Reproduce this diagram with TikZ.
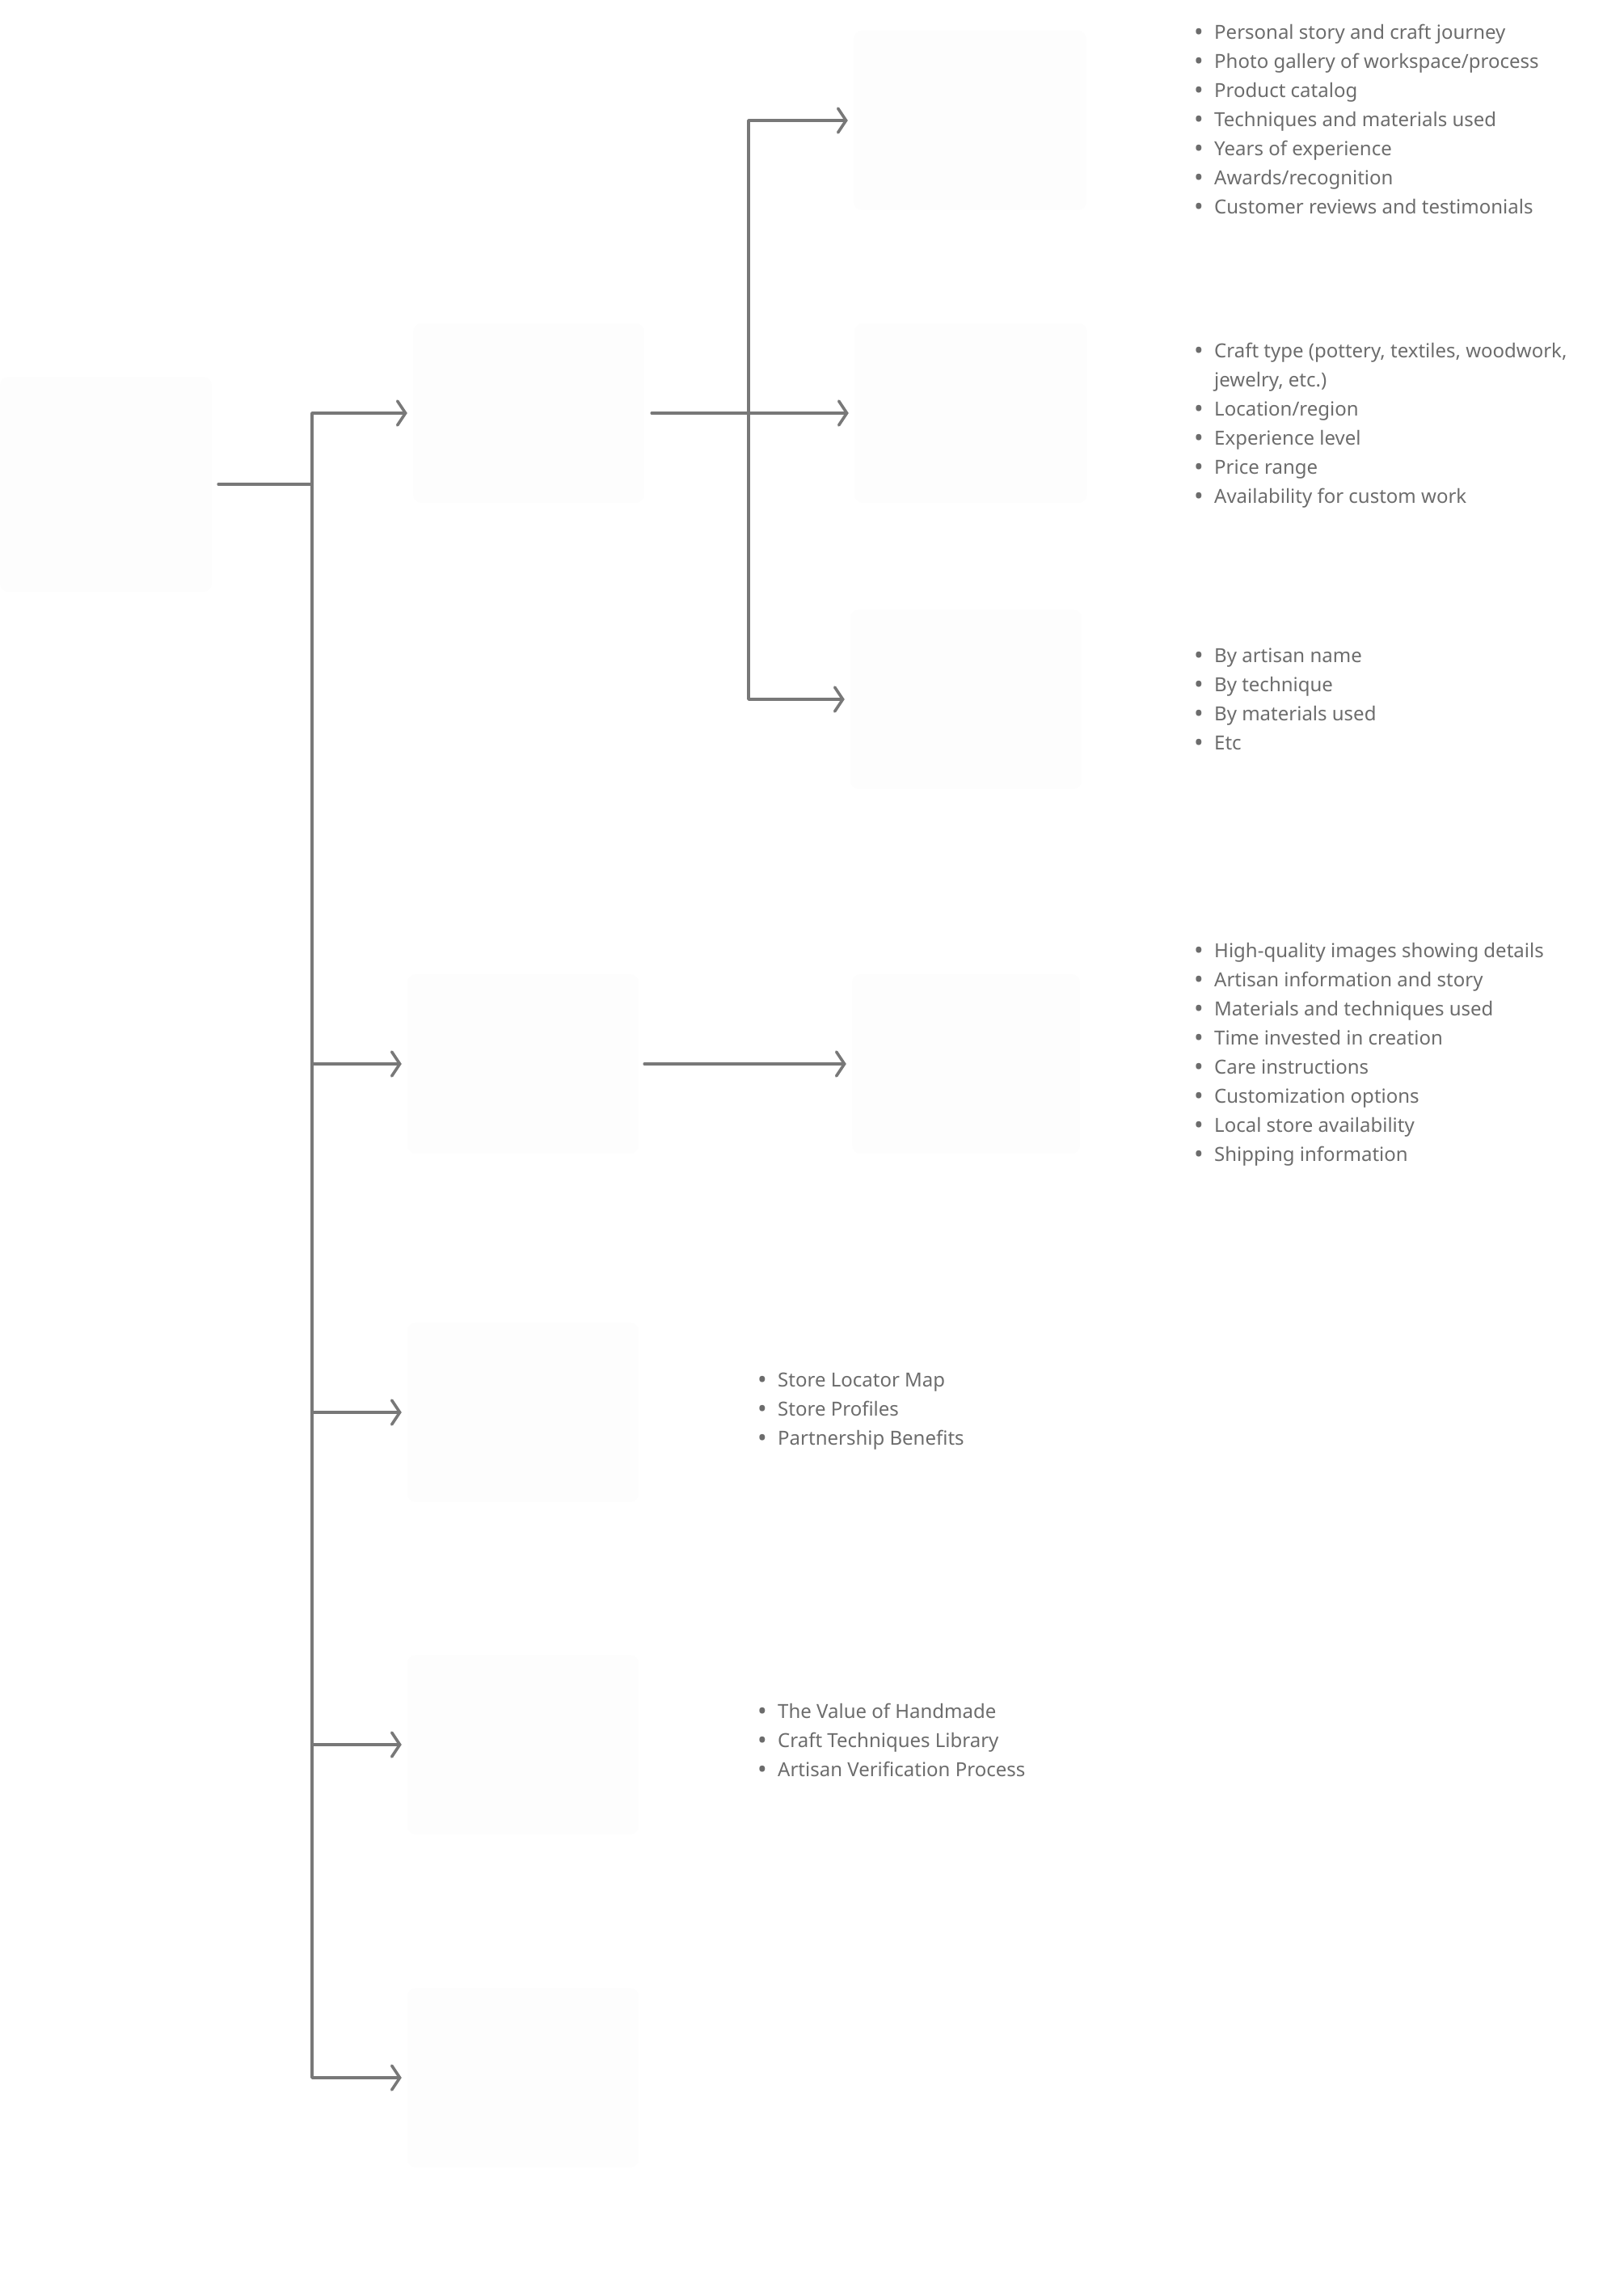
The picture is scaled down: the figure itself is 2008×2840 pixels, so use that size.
\documentclass[tikz,border=0pt]{standalone}
\usepackage{fontspec}
\setmainfont{Noto Sans}
\usetikzlibrary{arrows.meta}
\definecolor{linegray}{HTML}{787878}
\definecolor{textgray}{HTML}{6C6C6C}
\definecolor{boxfill}{HTML}{FDFDFD}
\newcommand\itm{\makebox[0pt][c]{\raisebox{-2pt}{\fontsize{31pt}{36pt}\selectfont\textbullet}}\hspace{19pt}}
\newcommand\itmcont{\hspace*{19pt}}

\begin{document}
\begin{tikzpicture}[x=1pt,y=-1pt,
  link/.style={draw=linegray,line width=3.6pt,line cap=round,line join=round,
    -{Straight Barb[length=10pt,width=30pt,line cap=round]},shorten >=7pt},
  card/.style={fill=boxfill,rounded corners=10pt,inner sep=0pt,
    minimum width=286pt,minimum height=222pt},
  list/.style={anchor=west,align=left,inner sep=0pt,text=textgray,
    font=\fontsize{24pt}{36pt}\selectfont}]
  \useasboundingbox (0,0) rectangle (2008,2840);

  % 方框（无文字）
  \node[card,minimum width=262pt,minimum height=266pt] (root) at (131,599) {};
  \node[card] (artisans) at (654,511) {};
  \node[card] (products) at (647,1316) {};
  \node[card] (stores) at (647,1747) {};
  \node[card] (learn) at (647,2158) {};
  \node[card] (extra) at (647,2570) {};
  \node[card,minimum width=288pt] (profile) at (1200,149) {};
  \node[card,minimum width=288pt] (filters) at (1201,511) {};
  \node[card] (search) at (1195,865) {};
  \node[card,minimum width=282pt] (detail) at (1195,1316) {};

  % 分叉点
  \coordinate (trunk) at (386,599);
  \coordinate (fork) at (926,511);

  % 主干连线
  \draw[link,shorten <=8pt] (root.east) -- (trunk) |- (artisans.west);
  \draw[link] (trunk) |- (products.west);
  \draw[link] (trunk) |- (stores.west);
  \draw[link] (trunk) |- (learn.west);
  \draw[link] (trunk) |- (extra.west);

  % 二级连线
  \draw[link,shorten <=9pt] (artisans.east) -- (filters.west);
  \draw[link] (fork) |- (profile.west);
  \draw[link] (fork) |- (search.west);
  \draw[link,shorten <=7pt] (products.east) -- (detail.west);

  % 要点列表
  \node[list] (profilelist) at (1483,148.5) {%
    \itm Personal story and craft journey\\
    \itm Photo gallery of workspace/process\\
    \itm Product catalog\\
    \itm Techniques and materials used\\
    \itm Years of experience\\
    \itm Awards/recognition\\
    \itm Customer reviews and testimonials};
  \node[list] (filterlist) at (1483,526.5) {%
    \itm Craft type (pottery, textiles, woodwork,\\
    \itmcont jewelry, etc.)\\
    \itm Location/region\\
    \itm Experience level\\
    \itm Price range\\
    \itm Availability for custom work};
  \node[list] (searchlist) at (1483,865.5) {%
    \itm By artisan name\\
    \itm By technique\\
    \itm By materials used\\
    \itm Etc};
  \node[list] (detaillist) at (1483,1304.5) {%
    \itm High-quality images showing details\\
    \itm Artisan information and story\\
    \itm Materials and techniques used\\
    \itm Time invested in creation\\
    \itm Care instructions\\
    \itm Customization options\\
    \itm Local store availability\\
    \itm Shipping information};
  \node[list] (storelist) at (943,1745.5) {%
    \itm Store Locator Map\\
    \itm Store Profiles\\
    \itm Partnership Benefits};
  \node[list] (learnlist) at (943,2153) {%
    \itm The Value of Handmade\\
    \itm Craft Techniques Library\\
    \itm Artisan Verification Process};
\end{tikzpicture}
\end{document}
